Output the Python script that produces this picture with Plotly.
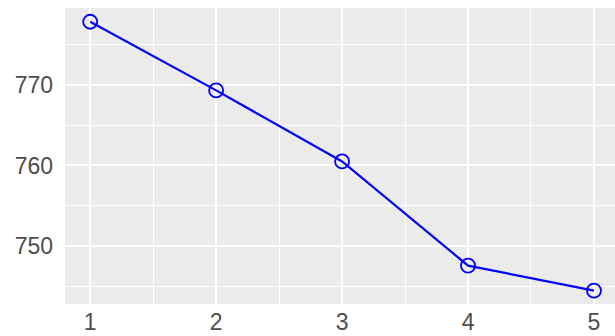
import plotly.graph_objects as go

x_vals = [1, 2, 3, 4, 5]
y_vals = [777.8, 769.3, 760.5, 747.6, 744.5]
x_ticks = [1, 2, 3, 4, 5]
y_ticks = [750, 760, 770]

fig = go.Figure()
fig.add_trace(go.Scatter(
    x=x_vals, y=y_vals, mode="lines+markers",
    line=dict(color="#0000FF", width=2.2),
    marker=dict(symbol="circle-open", size=14, color="#0000FF", line=dict(width=1.8, color="#0000FF")),
    showlegend=False,
))

fig.update_layout(
    width=615, height=336,
    margin=dict(l=65, r=0, t=8, b=32),
    paper_bgcolor="white",
    plot_bgcolor="#EBEBEB",
    font=dict(family="Liberation Sans, Arial, sans-serif", size=23, color="#4D4D4D"),
)
fig.update_xaxes(
    range=[0.8, 5.167], tickvals=x_ticks, ticktext=[str(v) for v in x_ticks],
    tickfont=dict(size=23, color="#4D4D4D"),
    showgrid=True, gridcolor="white", gridwidth=2,
    minor=dict(tickvals=[1.5, 2.5, 3.5, 4.5], showgrid=True, gridcolor="white", gridwidth=1),
    zeroline=False, showline=False, ticks="", ticklabelstandoff=2,
)
fig.update_yaxes(
    range=[742.85, 779.5], tickvals=y_ticks, ticktext=[str(v) for v in y_ticks],
    tickfont=dict(size=23, color="#4D4D4D"),
    showgrid=True, gridcolor="white", gridwidth=2,
    minor=dict(tickvals=[745, 755, 765, 775], showgrid=True, gridcolor="white", gridwidth=1),
    zeroline=False, showline=False, ticks="", ticklabelstandoff=11,
)

fig.write_html("out.html", config={"displayModeBar": False},
               post_script="document.body.style.margin='0';")
